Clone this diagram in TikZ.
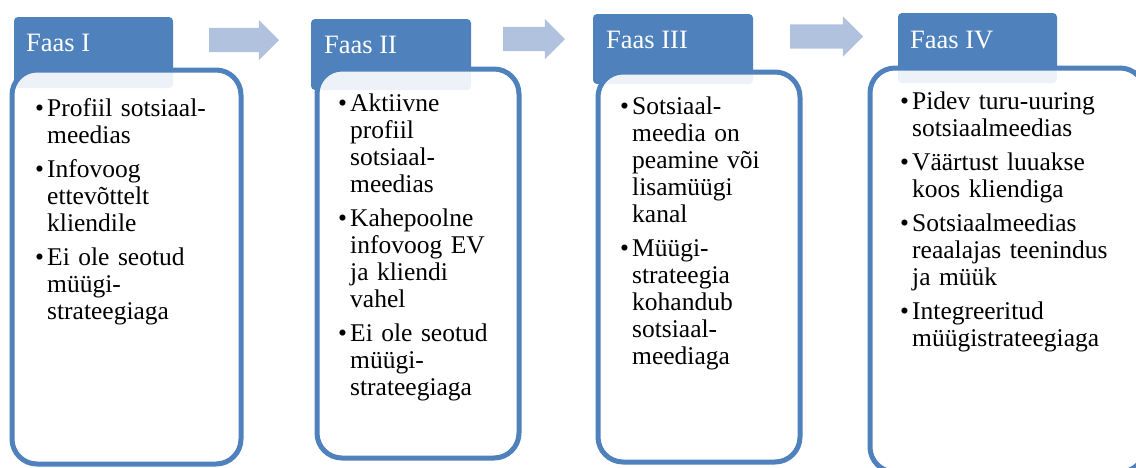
\documentclass[tikz,border=0pt]{standalone}
\usepackage{fontspec}
\setmainfont{Liberation Serif}[Ligatures=NoCommon]
\usetikzlibrary{shapes.arrows}
\definecolor{faasblue}{HTML}{4F81BD}
\definecolor{noolblue}{HTML}{B0C2DE}
\newcommand\bul[1]{\par\hangindent=12pt\hangafter=1\noindent\makebox[12pt][l]{\textbullet}\strut#1}
\begin{document}
\begin{tikzpicture}[x=1pt, y=-1pt, line join=round,
		tab/.style={fill=faasblue, rounded corners=4pt, inner sep=0, outer sep=0, anchor=north west},
		box/.style={draw=faasblue, line width=5pt, fill=white, fill opacity=0.9, rounded corners=25pt, inner sep=0, outer sep=0, anchor=north west},
		hdr/.style={text=white, font=\fontsize{26.5}{28}\selectfont, anchor=base west, inner sep=0},
		txt/.style={text width=250pt, inner sep=0, anchor=north west, font=\fontsize{25.5}{27}\selectfont},
		nool/.style={single arrow, fill=noolblue, inner xsep=0, inner ysep=12pt, single arrow head extend=8pt, outer sep=0, anchor=tail}
		]
		\useasboundingbox (0,0) rectangle (1136,467);
		% tabs
		\node[tab, minimum width=159pt, minimum height=71pt] (tabI) at (14,17) {};
		\node[tab, minimum width=160pt, minimum height=71pt] (tabII) at (311,19) {};
		\node[tab, minimum width=160pt, minimum height=70pt] (tabIII) at (593,14) {};
		\node[tab, minimum width=159pt, minimum height=70pt] (tabIV) at (898,13) {};
		% boxes
		\node[box, minimum width=229pt, minimum height=394pt] (boxI) at (12,70) {};
		\node[box, minimum width=202pt, minimum height=389pt] (boxII) at (317,69) {};
		\node[box, minimum width=202pt, minimum height=390pt] (boxIII) at (598,72) {};
		\node[box, minimum width=275pt, minimum height=404pt] (boxIV) at (870,68) {};
		% arrows
		\node[nool, minimum height=70pt] (noolI) at (209,40) {};
		\node[nool, minimum height=62pt] (noolII) at (503,39) {};
		\node[nool, minimum height=73pt] (noolIII) at (790,36.5) {};
		% headers
		\node[hdr] (faasI) at (26,51) {Faas I};
		\node[hdr] (faasII) at (324,53) {Faas II};
		\node[hdr] (faasIII) at (606,48) {Faas III};
		\node[hdr] (faasIV) at (910,48) {Faas IV};
		% texts
		\node[txt] (txtI) at (35,82) {\raggedright\setlength\parskip{7pt}%
			\bul{Profiil sotsiaal-\newline meedias}
			\bul{Infovoog\newline ettevõttelt\newline kliendile}
			\bul{Ei ole seotud\newline müügi-\newline strateegiaga}\par};
		\node[txt] (txtII) at (338,77.5) {\raggedright\setlength\parskip{7pt}%
			\bul{Aktiivne\newline profiil\newline sotsiaal-\newline meedias}
			\bul{Kahepoolne\newline infovoog EV\newline ja kliendi\newline vahel}
			\bul{Ei ole seotud\newline müügi-\newline strateegiaga}\par};
		\node[txt] (txtIII) at (620,80) {\raggedright\setlength\parskip{7pt}%
			\bul{Sotsiaal-\newline meedia on\newline peamine või\newline lisamüügi\newline kanal}
			\bul{Müügi-\newline strateegia\newline kohandub\newline sotsiaal-\newline meediaga}\par};
		\node[txt] (txtIV) at (900,75) {\raggedright\setlength\parskip{7pt}%
			\bul{Pidev turu-uuring\newline sotsiaalmeedias}
			\bul{Väärtust luuakse\newline koos kliendiga}
			\bul{Sotsiaalmeedias\newline reaalajas teenindus\newline ja müük}
			\bul{Integreeritud\newline müügistrateegiaga}\par};
\end{tikzpicture}
\end{document}
